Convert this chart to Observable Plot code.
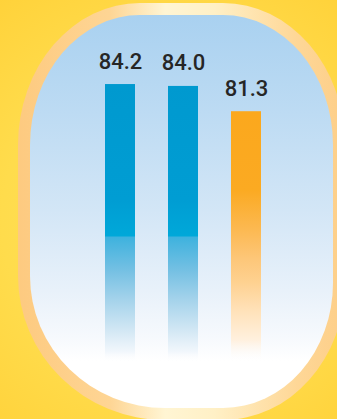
<!DOCTYPE html>
<html>
<head>
<meta charset="utf-8">
<script src="https://cdn.jsdelivr.net/npm/d3@7"></script>
<script src="https://cdn.jsdelivr.net/npm/@observablehq/plot@0.6"></script>
<style>
  html, body { margin: 0; padding: 0; background: #ffd842; }
  #chart { width: 337px; height: 419px; overflow: hidden; }
</style>
</head>
<body>
<div id="chart"></div>
<script>
// Bar categories, values and which bars are highlighted (orange)
const categories = ["first", "second", "third"];
const values = [84.2, 84.0, 81.3];
const highlighted = [false, false, true];

const data = categories.map((c, i) => ({category: c, value: values[i], highlight: highlighted[i]}));

const W = 337, H = 419;

// Rounded rectangle with independent elliptical corners [rx, ry]
function windowPath(x0, y0, x1, y1, tl, tr, br, bl) {
  return `M${x0 + tl[0]},${y0}H${x1 - tr[0]}` +
    `A${tr[0]},${tr[1]} 0 0 1 ${x1},${y0 + tr[1]}V${y1 - br[1]}` +
    `A${br[0]},${br[1]} 0 0 1 ${x1 - br[0]},${y1}H${x0 + bl[0]}` +
    `A${bl[0]},${bl[1]} 0 0 1 ${x0},${y1 - bl[1]}V${y0 + tl[1]}` +
    `A${tl[0]},${tl[1]} 0 0 1 ${x0 + tl[0]},${y0}Z`;
}

function addGradient(defs, id, attrs, stops) {
  const g = defs.append(attrs.r != null ? "radialGradient" : "linearGradient")
    .attr("id", id).attr("gradientUnits", "userSpaceOnUse");
  for (const [k, v] of Object.entries(attrs)) g.attr(k, v);
  for (const [o, c, a = 1] of stops) {
    g.append("stop").attr("offset", o).attr("stop-color", c).attr("stop-opacity", a);
  }
}

// Backdrop: yellow wall, peach frame and the sky-blue window pane
function backdrop() {
  const g = d3.create("svg:g");
  const defs = g.append("defs");
  addGradient(defs, "wall", {cx: 170, cy: 220, r: 280}, [
    [0, "#ffe25e"], [0.6, "#ffdc4c"], [1, "#ffd23a"]
  ]);
  addGradient(defs, "frame", {x1: 18, y1: 0, x2: 345, y2: 0}, [
    [0, "#fdca80"], [0.28, "#fed594"], [0.45, "#fff5d3"], [0.6, "#fff0c6"], [0.85, "#fed797"], [1, "#fdce88"]
  ]);
  addGradient(defs, "pane", {x1: 0, y1: 15, x2: 0, y2: 408}, [
    [0, "#a9d1f0"], [0.25, "#bddbf3"], [0.5, "#d3e6f6"], [0.7, "#e8f1fa"], [0.82, "#f6f9fd"], [0.88, "#ffffff"], [1, "#ffffff"]
  ]);
  const span = (y, a, b) => (y - a) / (b - a);
  addGradient(defs, "blueFade", {x1: 0, y1: 82, x2: 0, y2: 362}, [
    [0, "#0099cf"], [span(200, 82, 362), "#009dd3"], [span(236, 82, 362), "#00a8d9"],
    [span(237, 82, 362), "#3eb2de"], [span(270, 82, 362), "#74c0e3"], [span(300, 82, 362), "#a5d3eb"],
    [span(330, 82, 362), "#d2e7f4"], [span(352, 82, 362), "#f2f7fc"], [1, "#ffffff", 0]
  ]);
  addGradient(defs, "orangeFade", {x1: 0, y1: 111, x2: 0, y2: 362}, [
    [0, "#fba81d"], [span(190, 111, 362), "#fbaa22"], [span(230, 111, 362), "#fcb952"],
    [span(260, 111, 362), "#fdc77a"], [span(282, 111, 362), "#fed190"], [span(310, 111, 362), "#ffe1b8"],
    [span(340, 111, 362), "#fff0de"], [1, "#ffffff", 0]
  ]);
  g.append("rect").attr("width", W).attr("height", H).attr("fill", "url(#wall)");
  g.append("path").attr("fill", "url(#frame)")
    .attr("d", windowPath(18, 3, 345, 420, [122, 142], [122, 142], [122, 137], [147, 144]));
  g.append("path").attr("fill", "url(#pane)")
    .attr("d", windowPath(30, 15, 333, 408, [110, 130], [110, 130], [110, 125], [135, 132]));
  return g.node();
}

const chart = Plot.plot({
  width: W,
  height: H,
  margin: 0,
  style: {background: "none", overflow: "hidden"},
  x: {domain: categories, range: [87.25, 277.75], paddingInner: 0.528, paddingOuter: 0.264, axis: null},
  y: {domain: [0, 90], range: [873, 29.7], axis: null},
  marks: [
    backdrop,
    Plot.barY(data, {
      x: "category",
      y: "value",
      fill: d => d.highlight ? "url(#orangeFade)" : "url(#blueFade)",
      clip: true
    }),
    Plot.text(data, {
      x: "category",
      y: "value",
      text: d => d.value.toFixed(1),
      dy: -16,
      lineAnchor: "bottom",
      fontSize: 22,
      fontWeight: 500,
      fontFamily: "Roboto",
      fill: "#262626"
    })
  ]
});

document.getElementById("chart").append(chart);
</script>
</body>
</html>
